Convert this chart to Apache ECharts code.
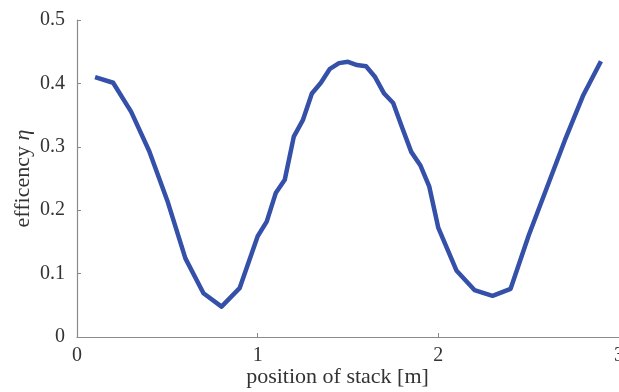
<!DOCTYPE html>
<html>
<head>
<meta charset="utf-8">
<script src="https://cdn.jsdelivr.net/npm/echarts@6/dist/echarts.min.js"></script>
<style>
  html, body { margin: 0; padding: 0; background: #fff; }
</style>
</head>
<body>
<!-- chart container -->
<div id="myChart" style="width: 619px; height: 392px;"></div>
<script>
// position of stack [m]
var positions = [0.1, 0.2, 0.3, 0.4, 0.5, 0.6, 0.7, 0.8, 0.9, 1.0,
  1.05, 1.1, 1.15, 1.2, 1.25, 1.3, 1.35, 1.4, 1.45, 1.5,
  1.55, 1.6, 1.65, 1.7, 1.75, 1.8, 1.85, 1.9, 1.95, 2.0,
  2.1, 2.2, 2.3, 2.4, 2.5, 2.6, 2.7, 2.8, 2.9];
// efficency eta
var efficiency = [0.41, 0.401, 0.355, 0.293, 0.215, 0.124, 0.069, 0.048, 0.077, 0.159,
  0.182, 0.227, 0.248, 0.316, 0.342, 0.384, 0.401, 0.423, 0.432, 0.434,
  0.429, 0.427, 0.41, 0.384, 0.369, 0.33, 0.292, 0.271, 0.237, 0.172,
  0.105, 0.074, 0.065, 0.076, 0.16, 0.235, 0.31, 0.38, 0.435];
var xTicks = [0, 1, 2, 3];
var yTicks = [0, 0.1, 0.2, 0.3, 0.4, 0.5];

var chart = echarts.init(document.getElementById('myChart'));
var font = '"Liberation Serif", "DejaVu Serif", serif';
var axisColor = '#8a8a8a';
var textColor = '#333';

var points = positions.map(function (x, i) { return [x, efficiency[i]]; });

var option = {
  animation: false,
  grid: { left: 77, right: 0, top: 20, bottom: 55, containLabel: false, outerBoundsMode: 'none' },
  xAxis: {
    type: 'value',
    min: xTicks[0],
    max: xTicks[xTicks.length - 1],
    interval: 1,
    name: 'position of stack [m]',
    nameLocation: 'middle',
    nameGap: 29,
    nameMoveOverlap: false,
    nameTextStyle: { fontFamily: font, fontSize: 22, color: textColor, padding: [0, 21, 0, 0] },
    axisLine: { show: true, lineStyle: { color: axisColor, width: 1.2 } },
    axisTick: { show: true, inside: true, length: 4, lineStyle: { color: axisColor } },
    axisLabel: { fontFamily: font, fontSize: 20, color: textColor, margin: 9, showMaxLabel: true },
    splitLine: { show: false }
  },
  yAxis: {
    type: 'value',
    min: yTicks[0],
    max: yTicks[yTicks.length - 1],
    interval: 0.1,
    name: '{n|efficency }{e|η}',
    nameLocation: 'middle',
    nameGap: 43,
    nameMoveOverlap: false,
    nameRotate: 90,
    nameTextStyle: {
      fontFamily: font, fontSize: 22, color: textColor,
      rich: {
        n: { fontFamily: font, fontSize: 22, color: textColor },
        e: { fontFamily: font, fontSize: 22, color: textColor, fontStyle: 'italic' }
      }
    },
    axisLine: { show: true, lineStyle: { color: axisColor, width: 1.2 } },
    axisTick: { show: true, inside: true, length: 4, lineStyle: { color: axisColor } },
    axisLabel: {
      fontFamily: font, fontSize: 20, color: textColor, margin: 12,
      formatter: function (v) { return v === 0 ? '0' : v.toFixed(1); }
    },
    splitLine: { show: false }
  },
  series: [{
    type: 'line',
    data: points,
    showSymbol: false,
    symbol: 'none',
    lineStyle: { color: '#3450a8', width: 4.5, join: 'round' },
    itemStyle: { color: '#3450a8' }
  }]
};
option && chart.setOption(option);
</script>
</body>
</html>
